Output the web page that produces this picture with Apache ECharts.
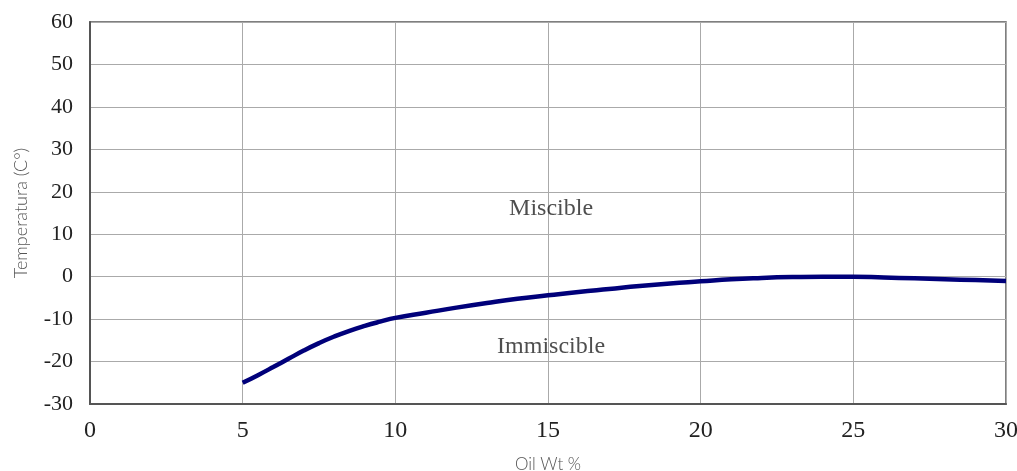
<!DOCTYPE html>
<html><head><meta charset="utf-8">
<script src="https://cdn.jsdelivr.net/npm/echarts@6/dist/echarts.min.js"></script>
<style>html,body{margin:0;padding:0;background:#fff}#c{width:1017px;height:471px}</style>
</head><body><div id="c"></div>
<script>
const oilWt = [5, 5.5, 6, 6.5, 7, 7.5, 8, 8.5, 9, 9.5, 10, 11, 12, 13, 14, 15, 16, 17, 18, 19, 20, 21, 22, 23, 24, 25, 26, 27, 28, 29, 30];
const temperature = [-25, -23.2, -21.3, -19.35, -17.4, -15.65, -14.1, -12.75, -11.6, -10.6, -9.7, -8.5, -7.3, -6.2, -5.2, -4.4, -3.6, -2.9, -2.2, -1.6, -1.1, -0.6, -0.3, -0.1, 0, 0, -0.2, -0.4, -0.6, -0.8, -1.0];
const regionLabels = ['Miscible', 'Immiscible'];
const regionX = [15.1, 15.1];
const regionY = [16, -16.6];

const chart = echarts.init(document.getElementById('c'));
const serif = '"Liberation Serif", "DejaVu Serif", serif';
const thin = 'Lato, "Open Sans", sans-serif';
chart.setOption({
  animation: false,
  backgroundColor: '#fff',
  grid: { left: 90, right: 11, top: 22, bottom: 67, outerBoundsMode: 'none', containLabel: false, show: true, borderColor: '#555', borderWidth: 1.5 },
  xAxis: {
    type: 'value', min: 0, max: 30, interval: 5,
    name: 'Oil Wt %', nameLocation: 'middle', nameGap: 52,
    nameTextStyle: { fontFamily: thin, fontSize: 17, color: '#555', fontWeight: 300 },
    axisLine: { show: true, onZero: false, lineStyle: { color: '#555', width: 2 } },
    axisTick: { show: false },
    axisLabel: { fontFamily: serif, fontSize: 24, color: '#222', margin: 15 },
    splitLine: { show: true, lineStyle: { color: '#aaa', width: 1 } }
  },
  yAxis: {
    type: 'value', min: -30, max: 60, interval: 10,
    name: 'Temperatura (C°)', nameLocation: 'middle', nameGap: 60,
    nameTextStyle: { fontFamily: thin, fontSize: 18, color: '#555', fontWeight: 300 },
    axisLine: { show: true, onZero: false, lineStyle: { color: '#555', width: 2 } },
    axisTick: { show: false },
    axisLabel: { fontFamily: serif, fontSize: 22, color: '#222', margin: 17 },
    splitLine: { show: true, lineStyle: { color: '#aaa', width: 1 } }
  },
  series: [
    {
      type: 'line', smooth: true, symbol: 'none',
      data: oilWt.map((x, i) => [x, temperature[i]]),
      lineStyle: { color: '#00007a', width: 4.5 }
    },
    {
      type: 'scatter', symbolSize: 0,
      data: regionLabels.map((t, i) => ({ value: [regionX[i], regionY[i]], name: t })),
      label: { show: true, position: 'inside', formatter: p => p.name, fontFamily: serif, fontSize: 24, color: '#222' }
    }
  ]
});
</script></body></html>
